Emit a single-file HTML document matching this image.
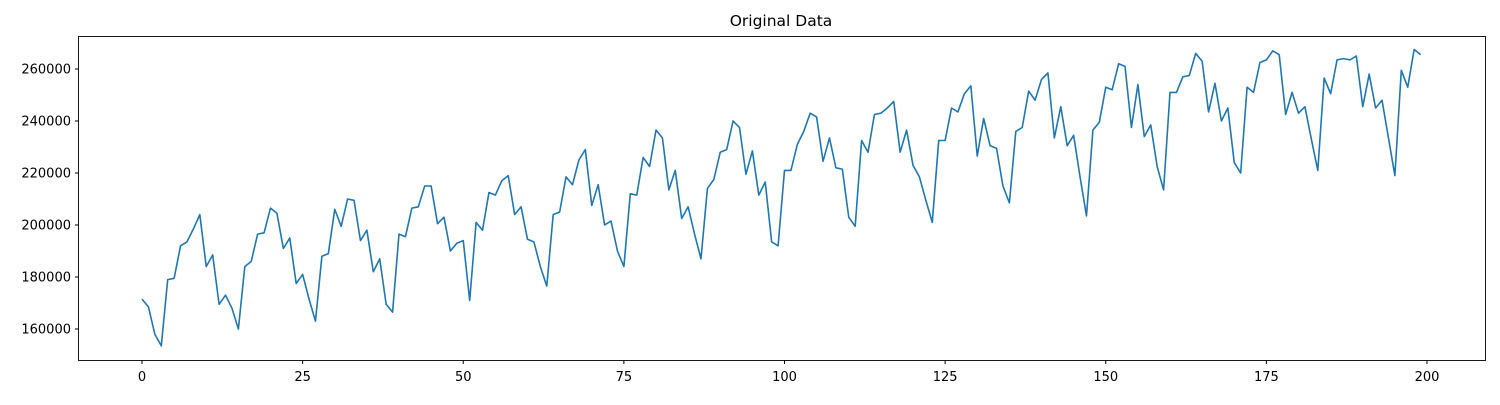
<!DOCTYPE html>
<html><head><meta charset="utf-8"><style>
body{margin:0;background:#fff;}
svg text{font-family:"DejaVu Sans","Liberation Sans",sans-serif;fill:#000;}
</style></head><body>
<svg id="chart" width="1500" height="400" xmlns="http://www.w3.org/2000/svg">
<text x="781" y="26" font-size="15.5" text-anchor="middle">Original Data</text>
<g id="axes"></g>
<rect x="78.5" y="36.5" width="1407" height="324" fill="none" stroke="#000" stroke-width="0.9"/>
</svg>
<script>
const values=[171.5,168.5,158,153.5,179,179.5,192,193.5,198.5,204,184,188.5,169.5,173,168,160,184,186,196.5,197,206.5,204.5,191,195,177.5,181,171.5,163,188,189,206,199.5,210,209.5,194,198,182,187,169.5,166.5,196.5,195.5,206.5,207,215,215,200.5,203,190,193,194,171,201,198,212.5,211.5,217,219,204,207,194.5,193.5,184,176.5,204,205,218.5,215.5,225,229,207.5,215.5,200,201.5,190,184,212,211.5,226,222.5,236.5,233.5,213.5,221,202.5,207,196.5,187,214,217.5,228,229,240,237.5,219.5,228.5,211.5,216.5,193.5,192,221,221,231,236,243,241.5,224.5,233.5,222,221.5,203,199.5,232.5,228,242.5,243,245,247.5,228,236.5,223,218.5,209.5,201,232.5,232.5,245,243.5,250.5,253.5,226.5,241,230.5,229.5,215,208.5,236,237.5,251.5,248,256,258.5,233.5,245.5,230.5,234.5,218.5,203.5,236.5,239.5,253,252,262,261,237.5,254,234,238.5,222.5,213.5,251,251,257,257.5,266,263,243.5,254.5,240,245,224,220,253,251,262.5,263.5,267,265.5,242.5,251,243,245.5,233,221,256.5,250.5,263.5,264,263.5,265,245.5,258,245,248,233.5,219,259.5,253,267.5,265.5].map(v=>v*1000);
const xTicks=[0,25,50,75,100,125,150,175,200];
const yTicks=[160000,180000,200000,220000,240000,260000];
const sx=i=>142+i*(1427-142)/200;
const sy=v=>69+(260000-v)*(329-69)/100000;
const NS="http://www.w3.org/2000/svg";
const svg=document.getElementById('chart');
const g=document.getElementById('axes');
xTicks.forEach(t=>{
  const l=document.createElementNS(NS,'line');
  l.setAttribute('x1',sx(t));l.setAttribute('x2',sx(t));l.setAttribute('y1',360.5);l.setAttribute('y2',364);l.setAttribute('stroke','#000');
  
  
  g.appendChild(l);
  const tx=document.createElementNS(NS,'text');
  tx.setAttribute('x',sx(t));tx.setAttribute('y',381);tx.setAttribute('font-size','13');tx.setAttribute('text-anchor','middle');
  tx.textContent=t;
  
  
  g.appendChild(tx);
});
yTicks.forEach(t=>{
  const l=document.createElementNS(NS,'line');
  l.setAttribute('x1',75);l.setAttribute('x2',78.5);l.setAttribute('y1',sy(t));l.setAttribute('y2',sy(t));l.setAttribute('stroke','#000');
  
  
  g.appendChild(l);
  const tx=document.createElementNS(NS,'text');
  tx.setAttribute('x',71);tx.setAttribute('y',sy(t)+4.5);tx.setAttribute('font-size','13');tx.setAttribute('text-anchor','end');
  tx.textContent=t;
  
  
  g.appendChild(tx);
});
const p=document.createElementNS(NS,'polyline');
p.setAttribute('points',values.map((v,i)=>sx(i).toFixed(2)+','+sy(v).toFixed(2)).join(' '));
p.setAttribute('fill','none');p.setAttribute('stroke','#1f77b4');p.setAttribute('stroke-width','1.6');p.setAttribute('stroke-linejoin','round');


svg.appendChild(p);
</script>
</body></html>
